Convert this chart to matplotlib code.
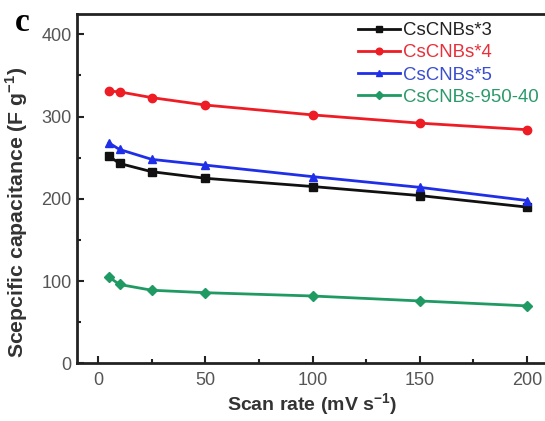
import matplotlib
matplotlib.use("Agg")
import matplotlib.pyplot as plt
from matplotlib.ticker import MultipleLocator

# scan rate (mV/s)
scan_rate = [5, 10, 25, 50, 100, 150, 200]

# specific capacitance (F/g)
cap_3 = [252, 243, 233, 225, 215, 204, 190]
cap_4 = [331, 330, 323, 314, 302, 292, 284]
cap_5 = [268, 260, 248, 241, 227, 214, 198]
cap_950 = [105, 96, 89, 86, 82, 76, 70]

labels = ["CsCNBs*3", "CsCNBs*4", "CsCNBs*5", "CsCNBs-950-40"]
colors = ["#111111", "#ee1c24", "#1f2fe8", "#1f9a62"]
text_colors = ["#222222", "#e8303a", "#3a4ed0", "#2a9a6a"]
markers = ["s", "o", "^", "D"]

plt.rcParams["font.family"] = ["Liberation Sans", "DejaVu Sans"]

fig = plt.figure(figsize=(5.45, 4.21), dpi=100)
ax = fig.add_axes([0.1407, 0.1366, 0.8655, 0.829])

series = [cap_3, cap_4, cap_5, cap_950]
for ys, lab, c, m in zip(series, labels, colors, markers):
    ax.plot(scan_rate, ys, color=c, marker=m, lw=2, ms=6 if m != "D" else 5,
            label=lab)

ax.set_xlim(-10, 210)
ax.set_ylim(0, 424)
ax.xaxis.set_major_locator(MultipleLocator(50))
ax.xaxis.set_minor_locator(MultipleLocator(25))
ax.yaxis.set_major_locator(MultipleLocator(100))
ax.yaxis.set_minor_locator(MultipleLocator(50))
ax.tick_params(which="both", direction="in", width=1.5, colors="#222",
               labelcolor="#555", labelsize=13)
ax.tick_params(which="major", length=5)
ax.tick_params(which="minor", length=3)
ax.tick_params(axis="x", pad=6)
for s in ax.spines.values():
    s.set_linewidth(2)
    s.set_color("#222")

ax.set_xlabel("Scan rate (mV s$^{\\mathregular{-1}}$)", fontsize=14,
              fontweight="bold", color="#333", labelpad=2)
ax.set_ylabel("Scepcific capacitance (F g$^{\\mathregular{-1}}$)", fontsize=15.3,
              fontweight="bold", color="#333")
ax.yaxis.set_label_coords(-0.099, 0.434)

leg = ax.legend(loc="upper left", frameon=False, fontsize=13.4,
                handlelength=2.25, handletextpad=0.16, labelspacing=0.28,
                borderpad=0, borderaxespad=0, markerscale=0.8,
                bbox_to_anchor=(358 / 545, 1 - 22 / 421),
                bbox_transform=fig.transFigure)
for t, c in zip(leg.get_texts(), text_colors):
    t.set_color(c)

fig.text(0.0275, 0.926, "c", fontsize=24, fontweight="bold",
         family="Liberation Serif")

fig.savefig("out.png", dpi=100)
